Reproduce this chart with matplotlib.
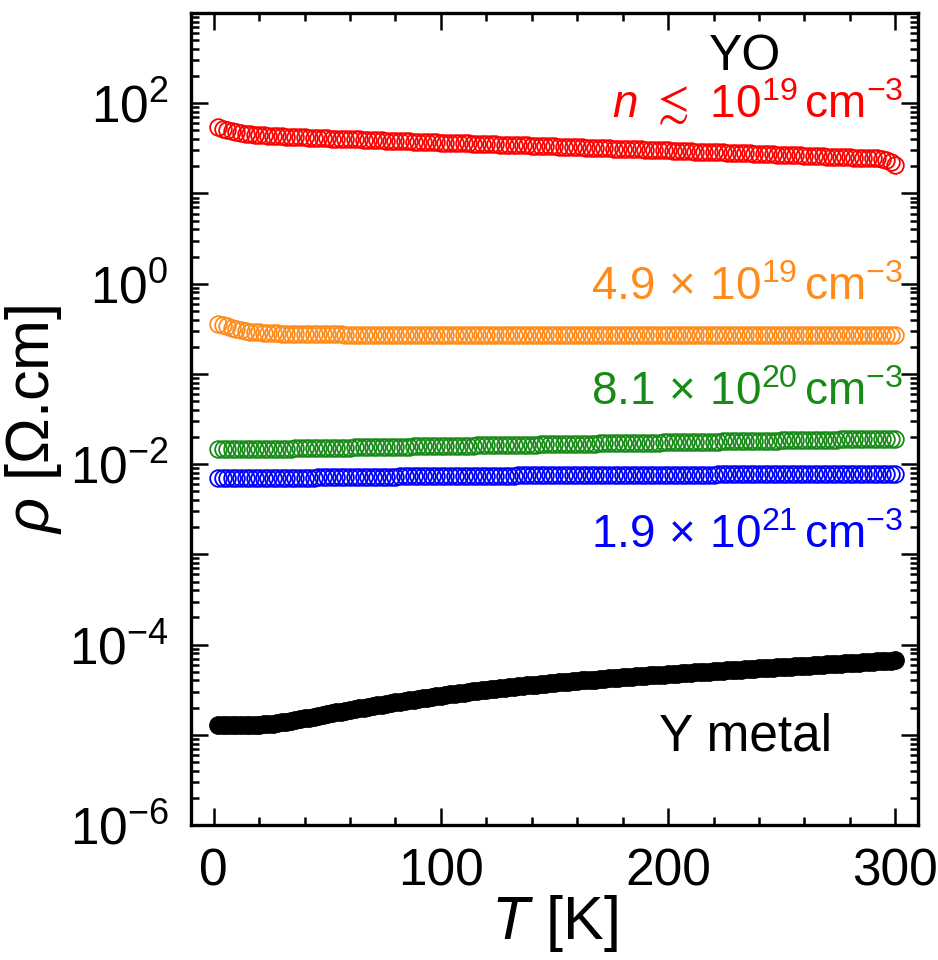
import numpy as np
import matplotlib
matplotlib.use("Agg")
import matplotlib.pyplot as plt
from matplotlib.ticker import FixedLocator, MultipleLocator, FuncFormatter, NullFormatter, LogLocator

plt.rcParams['font.family'] = ['Liberation Sans', 'DejaVu Sans']
plt.rcParams['mathtext.fontset'] = 'custom'
plt.rcParams['mathtext.rm'] = 'Liberation Sans'
plt.rcParams['mathtext.it'] = 'Liberation Sans:italic'
plt.rcParams['mathtext.bf'] = 'Liberation Sans:bold'
plt.rcParams['mathtext.fallback'] = 'stixsans'

# Temperature grid (K)
T = list(range(2, 301, 2))

# YO, n <~ 1e19 cm^-3 (Ohm.cm)
rho_red = [
    54.0, 52.3, 50.5, 49.0, 47.8, 46.9, 46.1, 45.5, 45.0, 44.4,
    44.0, 43.9, 43.5, 43.3, 43.1, 42.7, 42.6, 42.2, 42.0, 41.8,
    41.5, 41.4, 41.0, 40.9, 40.8, 40.4, 40.3, 40.2, 39.9, 40.1,
    39.8, 39.7, 39.4, 39.3, 39.2, 38.9, 38.8, 38.6, 38.4, 38.3,
    38.1, 38.0, 37.8, 37.6, 37.5, 37.3, 37.2, 37.0, 36.8, 36.7,
    36.6, 36.4, 36.3, 36.1, 36.0, 35.9, 35.7, 35.6, 35.4, 35.3,
    35.2, 35.0, 34.9, 34.7, 34.6, 34.5, 34.3, 34.2, 34.1, 33.9,
    33.8, 33.7, 33.5, 33.4, 33.3, 33.1, 33.0, 32.9, 32.7, 32.6,
    32.5, 32.3, 32.2, 32.1, 31.9, 31.8, 31.7, 31.5, 31.4, 31.3,
    31.2, 31.0, 30.9, 30.8, 30.6, 30.5, 30.4, 30.3, 30.1, 30.0,
    29.9, 29.7, 29.6, 29.5, 29.4, 29.2, 29.1, 29.0, 28.9, 28.7,
    28.6, 28.5, 28.4, 28.2, 28.1, 28.0, 27.9, 27.8, 27.6, 27.5,
    27.4, 27.3, 27.2, 27.0, 26.9, 26.8, 26.7, 26.6, 26.4, 26.3,
    26.2, 26.1, 26.0, 25.8, 25.7, 25.6, 25.5, 25.4, 25.2, 25.1,
    25.0, 24.8, 24.7, 24.6, 24.9, 24.5, 24.0, 23.6, 22.6, 20.6,
]

# YO, n = 4.9e19 cm^-3 (Ohm.cm)
rho_orange = [
    0.362, 0.350, 0.336, 0.324, 0.314, 0.306, 0.300, 0.295, 0.291, 0.288,
    0.285, 0.283, 0.282, 0.281, 0.280, 0.279, 0.278, 0.278, 0.277, 0.277,
    0.276, 0.276, 0.275, 0.275, 0.275, 0.274, 0.274, 0.274, 0.273, 0.273,
    0.273, 0.273, 0.272, 0.272, 0.272, 0.272, 0.272, 0.271, 0.271, 0.271,
    0.271, 0.271, 0.271, 0.271, 0.271, 0.271, 0.270, 0.270, 0.270, 0.270,
    0.270, 0.270, 0.270, 0.270, 0.270, 0.270, 0.270, 0.270, 0.270, 0.270,
    0.270, 0.270, 0.270, 0.269, 0.270, 0.270, 0.270, 0.270, 0.270, 0.270,
    0.270, 0.270, 0.270, 0.270, 0.270, 0.270, 0.269, 0.270, 0.270, 0.270,
    0.270, 0.270, 0.270, 0.270, 0.270, 0.270, 0.270, 0.270, 0.270, 0.270,
    0.270, 0.269, 0.270, 0.270, 0.270, 0.270, 0.270, 0.270, 0.270, 0.270,
    0.270, 0.270, 0.270, 0.270, 0.270, 0.270, 0.270, 0.270, 0.269, 0.270,
    0.270, 0.270, 0.270, 0.270, 0.270, 0.270, 0.270, 0.270, 0.270, 0.270,
    0.270, 0.270, 0.270, 0.270, 0.270, 0.269, 0.270, 0.270, 0.270, 0.270,
    0.270, 0.270, 0.270, 0.270, 0.270, 0.270, 0.270, 0.270, 0.270, 0.270,
    0.270, 0.270, 0.270, 0.270, 0.270, 0.270, 0.270, 0.270, 0.270, 0.271,
]

# YO, n = 8.1e20 cm^-3 (mOhm.cm)
rho_green_m = [
    14.75, 14.70, 14.68, 14.68, 14.68, 14.69, 14.70, 14.70, 14.71, 14.72,
    14.74, 14.76, 14.78, 14.80, 14.83, 14.86, 14.89, 14.92, 14.95, 14.98,
    15.01, 15.04, 15.07, 15.10, 15.13, 15.16, 15.19, 15.22, 15.25, 15.28,
    15.31, 15.34, 15.37, 15.40, 15.43, 15.46, 15.49, 15.52, 15.55, 15.58,
    15.61, 15.64, 15.67, 15.70, 15.73, 15.76, 15.79, 15.82, 15.85, 15.88,
    15.91, 15.94, 15.97, 16.00, 16.03, 16.06, 16.09, 16.12, 16.15, 16.18,
    16.21, 16.24, 16.27, 16.30, 16.33, 16.36, 16.39, 16.42, 16.45, 16.48,
    16.51, 16.54, 16.57, 16.60, 16.63, 16.66, 16.69, 16.72, 16.75, 16.78,
    16.81, 16.84, 16.87, 16.91, 16.94, 16.97, 17.00, 17.04, 17.07, 17.10,
    17.13, 17.17, 17.20, 17.23, 17.27, 17.30, 17.33, 17.37, 17.40, 17.43,
    17.47, 17.50, 17.54, 17.57, 17.60, 17.64, 17.67, 17.71, 17.74, 17.78,
    17.81, 17.85, 17.88, 17.92, 17.95, 17.99, 18.02, 18.06, 18.09, 18.13,
    18.16, 18.20, 18.23, 18.27, 18.31, 18.34, 18.38, 18.41, 18.45, 18.49,
    18.52, 18.56, 18.60, 18.63, 18.67, 18.71, 18.74, 18.78, 18.82, 18.86,
    18.89, 18.93, 18.97, 19.01, 19.04, 19.08, 19.12, 19.16, 19.20, 19.20,
]

# YO, n = 1.9e21 cm^-3 (mOhm.cm)
rho_blue_m = [
    7.00, 6.98, 6.97, 6.97, 6.98, 6.98, 6.99, 6.99, 7.00, 7.00,
    7.01, 7.01, 7.02, 7.03, 7.04, 7.05, 7.06, 7.07, 7.08, 7.09,
    7.10, 7.11, 7.12, 7.13, 7.14, 7.15, 7.16, 7.17, 7.18, 7.19,
    7.20, 7.21, 7.22, 7.23, 7.24, 7.25, 7.26, 7.27, 7.28, 7.29,
    7.30, 7.31, 7.32, 7.33, 7.34, 7.35, 7.36, 7.37, 7.37, 7.38,
    7.39, 7.40, 7.40, 7.41, 7.42, 7.42, 7.43, 7.44, 7.44, 7.45,
    7.46, 7.46, 7.47, 7.47, 7.48, 7.48, 7.49, 7.49, 7.50, 7.50,
    7.51, 7.51, 7.52, 7.52, 7.53, 7.53, 7.54, 7.54, 7.55, 7.55,
    7.56, 7.56, 7.57, 7.57, 7.58, 7.58, 7.58, 7.59, 7.59, 7.60,
    7.60, 7.61, 7.61, 7.61, 7.62, 7.62, 7.63, 7.63, 7.63, 7.64,
    7.64, 7.64, 7.65, 7.65, 7.66, 7.66, 7.66, 7.67, 7.67, 7.67,
    7.68, 7.68, 7.68, 7.69, 7.69, 7.69, 7.70, 7.70, 7.70, 7.71,
    7.71, 7.71, 7.72, 7.72, 7.72, 7.73, 7.73, 7.73, 7.74, 7.74,
    7.74, 7.75, 7.75, 7.75, 7.76, 7.76, 7.76, 7.77, 7.77, 7.77,
    7.78, 7.78, 7.78, 7.79, 7.79, 7.79, 7.80, 7.80, 7.80, 7.80,
]

# Y metal (1e-5 Ohm.cm)
rho_metal_e5 = [
    1.28, 1.28, 1.28, 1.28, 1.28, 1.28, 1.29, 1.29, 1.29, 1.30,
    1.31, 1.32, 1.33, 1.35, 1.37, 1.39, 1.42, 1.45, 1.48, 1.52,
    1.55, 1.59, 1.62, 1.66, 1.70, 1.73, 1.77, 1.81, 1.84, 1.88,
    1.92, 1.96, 2.00, 2.04, 2.08, 2.12, 2.16, 2.21, 2.25, 2.29,
    2.33, 2.37, 2.42, 2.46, 2.50, 2.54, 2.59, 2.63, 2.68, 2.72,
    2.76, 2.81, 2.85, 2.90, 2.94, 2.98, 3.03, 3.07, 3.12, 3.16,
    3.20, 3.24, 3.28, 3.33, 3.37, 3.41, 3.45, 3.49, 3.53, 3.57,
    3.61, 3.65, 3.70, 3.74, 3.78, 3.81, 3.85, 3.89, 3.92, 3.96,
    4.00, 4.03, 4.07, 4.10, 4.14, 4.18, 4.21, 4.25, 4.28, 4.32,
    4.36, 4.40, 4.44, 4.48, 4.52, 4.55, 4.59, 4.63, 4.66, 4.70,
    4.74, 4.77, 4.81, 4.84, 4.88, 4.92, 4.95, 4.99, 5.02, 5.06,
    5.10, 5.14, 5.17, 5.21, 5.25, 5.29, 5.33, 5.36, 5.40, 5.44,
    5.48, 5.52, 5.55, 5.59, 5.63, 5.67, 5.71, 5.74, 5.78, 5.82,
    5.86, 5.90, 5.94, 5.98, 6.02, 6.06, 6.10, 6.14, 6.18, 6.22,
    6.26, 6.31, 6.35, 6.40, 6.45, 6.50, 6.55, 6.60, 6.65, 6.70,
]

labels = [
    r'$n\ \lesssim\ 10^{19}\,\mathrm{cm}^{-3}$',
    r'$\mathrm{4.9\,\times\,10^{19}\,cm^{-3}}$',
    r'$\mathrm{8.1\,\times\,10^{20}\,cm^{-3}}$',
    r'$\mathrm{1.9\,\times\,10^{21}\,cm^{-3}}$',
]
colors = ['#FF0000', '#FF8C1A', '#178A17', '#0000FF']

T = np.array(T, dtype=float)
series = [
    np.array(rho_red),
    np.array(rho_orange),
    np.array(rho_green_m) * 1e-3,
    np.array(rho_blue_m) * 1e-3,
]
metal = np.array(rho_metal_e5) * 1e-5

fig = plt.figure(figsize=(9.38, 9.60), dpi=100)
ax = fig.add_axes([0.2036, 0.1406, 0.7751, 0.8458])

for y, c in zip(series, colors):
    ax.plot(T, y, linestyle='none', marker='o', markersize=12,
            markerfacecolor='none', markeredgecolor=c, markeredgewidth=1.3)
ax.plot(T, metal, linestyle='none', marker='o', markersize=12.5,
        markerfacecolor='black', markeredgecolor='black')

ax.set_yscale('log')
ax.set_xlim(-10, 310)
ax.set_ylim(1e-6, 1e3)

ax.xaxis.set_major_locator(MultipleLocator(100))
ax.xaxis.set_minor_locator(MultipleLocator(20))
ax.yaxis.set_major_locator(FixedLocator([10.0 ** k for k in range(-6, 4)]))
ax.yaxis.set_minor_locator(LogLocator(base=10, subs=np.arange(2, 10), numticks=30))
ax.yaxis.set_minor_formatter(NullFormatter())


def ylab(v, pos):
    e = int(round(np.log10(v)))
    if e % 2 == 0 and e <= 2:
        return r'$\mathregular{10^{%d}}$' % e
    return ''


ax.yaxis.set_major_formatter(FuncFormatter(ylab))

for s in ax.spines.values():
    s.set_linewidth(2.4)
ax.tick_params(which='both', direction='in', top=True, right=True, width=1.8)
ax.tick_params(which='major', length=12, labelsize=37, pad=16)
ax.tick_params(which='minor', length=5.5)

ax.set_xlabel(r'$T$ [K]', fontsize=44, labelpad=-2)
ax.set_ylabel(r'$\rho$ [$\Omega$.cm]', fontsize=44, labelpad=4)

# annotations
ax.text(234, 232, 'YO', fontsize=36, ha='center', va='baseline', color='black')
label_y = [69.8, 0.664, 0.0453, 0.00117]
for txt, yv, c in zip(labels, label_y, colors):
    ax.text(303.5, yv, txt, fontsize=33, ha='right', va='baseline', color=c)
ax.text(234, 6.64e-6, 'Y metal', fontsize=37, ha='center', va='baseline', color='black')

fig.savefig('out.png', dpi=100)
